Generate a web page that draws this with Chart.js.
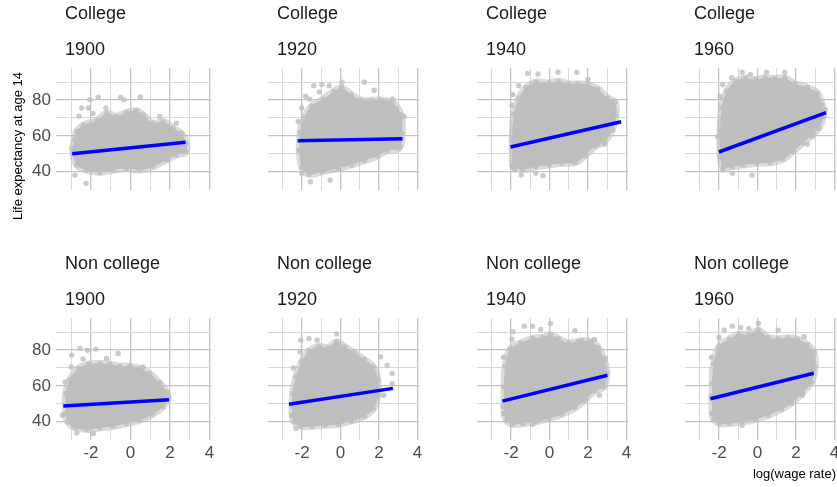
<!DOCTYPE html>
<html>
<head>
<meta charset="utf-8">
<script src="https://cdn.jsdelivr.net/npm/chart.js@4.4.1/dist/chart.umd.min.js"></script>
<style>
  body { margin: 0; width: 837px; height: 487px; overflow: hidden; background: #fff; position: relative; }
  canvas { position: absolute; }
</style>
</head>
<body>
<script>
// Grille et graduations
const xGrid = [-3, -2, -1, 0, 1, 2, 3, 4];
const xLabels = [-2, 0, 2, 4];
const yGrid = [40, 50, 60, 70, 80, 90];
const yLabels = [40, 60, 80];

const groups = ['College', 'Non college'];
const years = ['1900', '1920', '1940', '1960'];

// Nuages : contour de la zone dense [x, y], points isolés, droite de régression
const college1900Cloud = [[-2.92, 50.3], [-2.85, 58], [-2.72, 62.4], [-2.39, 66], [-1.71, 68.5], [-1.21, 72.5], [-0.71, 71], [-0.2, 73], [0.3, 74], [0.64, 71.8], [1.14, 67.1], [1.65, 68], [2.15, 64.3], [2.57, 61.5], [2.82, 55.9], [2.82, 51.2], [2.32, 49.3], [1.82, 46.5], [1.14, 42.8], [0.47, 40.9], [-0.2, 41.9], [-0.87, 40.9], [-1.55, 39.6], [-2.22, 40.9], [-2.72, 43.7]];
const college1900Points = [[-2.05, 80.2], [-1.63, 81.5], [-0.5, 81.5], [-0.34, 80.2], [0.5, 81.7], [-2.47, 75.5], [-2.13, 75.5], [-2.81, 38.1], [-2.25, 33.5], [2.74, 52.1], [2.18, 50.3], [2.32, 67.1], [1.48, 70.8], [-2.97, 53.1], [-1.24, 75.5], [-2.6, 71], [-1.9, 72.5]];
const college1900Fit = [[-2.95, 50.0], [2.79, 56.4]];

const college1920Cloud = [[-2.15, 52.0], [-2.1, 62.0], [-1.9, 70.0], [-1.5, 76.5], [-0.9, 80.5], [-0.37, 84.8], [0.05, 86.8], [0.56, 83.0], [1.07, 80.0], [1.58, 79.8], [2.08, 80.0], [2.68, 78.8], [3.15, 71.8], [3.2, 61.5], [3.05, 53.1], [2.42, 51.8], [1.92, 48.8], [1.24, 46.2], [0.56, 43.7], [-0.12, 41.9], [-0.97, 40.0], [-1.64, 38.6], [-2.02, 42.5]];
const college1920Points = [[-1.39, 88.0], [-0.97, 88.6], [-0.59, 88.0], [0.08, 89.9], [1.24, 89.9], [1.75, 85.4], [2.71, 80.6], [3.31, 70.8], [-2.02, 39.1], [-1.56, 34.4], [-0.54, 35.3], [3.1, 54.0], [-1.81, 82.1], [-2.02, 75.5], [-1.6, 80.5], [-1.1, 84.5], [-2.2, 68]];
const college1920Fit = [[-2.23, 57.3], [3.22, 58.4]];

const college1940Cloud = [[-1.93, 42.8], [-1.95, 57.8], [-1.85, 72.0], [-1.6, 81.0], [-1.22, 87.0], [-0.71, 90.0], [-0.03, 89.5], [0.47, 90.5], [0.98, 89.0], [1.49, 89.0], [2.0, 88.6], [2.51, 86.2], [3.02, 81.1], [3.4, 78.8], [3.45, 71.8], [3.27, 63.4], [2.85, 56.8], [2.34, 54.0], [1.83, 48.8], [1.32, 45.0], [0.64, 44.7], [-0.03, 43.7], [-0.71, 42.8], [-1.39, 41.3]];
const college1940Points = [[0.44, 95.5], [1.41, 95.5], [2.0, 91.4], [-1.14, 94.8], [-1.9, 83.0], [-1.81, 40.9], [-1.47, 38.1], [-0.34, 37.8], [2.85, 55.5], [2.51, 55.3], [3.36, 74.6], [-0.71, 39.1], [-1.6, 88], [-0.6, 94.5], [-1.95, 77]];
const college1940Fit = [[-2.03, 53.8], [3.72, 67.9]];

const college1960Cloud = [[-1.95, 48.4], [-1.95, 63.0], [-1.85, 76.0], [-1.6, 85.0], [-1.14, 90.5], [-0.63, 92.3], [-0.12, 91.5], [0.39, 92.4], [0.9, 92.0], [1.41, 92.3], [1.92, 89.2], [2.59, 87.0], [3.1, 84.0], [3.36, 77.4], [3.42, 70.8], [3.19, 64.3], [2.85, 60.6], [2.34, 55.9], [1.83, 51.2], [1.32, 46.9], [0.64, 45.0], [-0.03, 44.7], [-0.75, 43.7], [-1.31, 42.8], [-1.78, 42.5]];
const college1960Points = [[-0.8, 95.5], [-0.37, 94.2], [0.47, 95.5], [1.41, 95.5], [-1.81, 88.6], [-2.07, 59.6], [-1.81, 40.9], [-1.31, 39.1], [-0.29, 38.1], [2.85, 59.6], [2.59, 55.3], [3.53, 74.6], [-1.95, 82], [-1.35, 92.5]];
const college1960Fit = [[-2.01, 51.0], [3.56, 72.9]];

const noncollege1900Cloud = [[-3.28, 44.5], [-3.28, 55.7], [-3.06, 63.5], [-2.64, 69.7], [-2.13, 72.1], [-1.55, 72.5], [-1.04, 72.1], [-0.54, 71.0], [-0.03, 71.0], [0.47, 69.7], [0.97, 66.9], [1.48, 61.7], [1.82, 56.6], [1.9, 52.9], [1.65, 48.3], [1.14, 44.2], [0.47, 40.8], [-0.2, 39.0], [-0.87, 37.5], [-1.55, 36.5], [-2.22, 35.6], [-2.81, 36.7], [-3.18, 39.9]];
const noncollege1900Points = [[-2.55, 80.9], [-2.18, 79.9], [-1.75, 80.5], [-0.62, 78.1], [-1.21, 75.3], [-3.31, 62.2], [-3.45, 43.6], [-2.72, 33.7], [-1.88, 33.4], [1.9, 54.8], [0.64, 70.6], [-2.97, 77.1], [-3.0, 70.5], [-2.4, 75]];
const noncollege1900Fit = [[-3.4, 48.8], [1.95, 52.3]];

const noncollege1920Cloud = [[-2.53, 43.6], [-2.49, 55.7], [-2.32, 65.0], [-2.02, 73.5], [-1.64, 79.5], [-1.14, 82.0], [-0.63, 81.4], [-0.2, 84.6], [0.22, 81.8], [0.73, 78.4], [1.24, 74.7], [1.71, 70.6], [1.95, 63.2], [1.95, 54.8], [1.71, 47.3], [1.24, 43.1], [0.56, 40.3], [-0.12, 38.6], [-0.8, 38.0], [-1.47, 37.5], [-2.07, 37.5], [-2.41, 39.9]];
const noncollege1920Points = [[-0.2, 88.9], [-1.64, 86.4], [-2.07, 85.5], [-1.22, 85.5], [2.08, 76.2], [2.42, 71.5], [2.68, 66.9], [2.68, 61.3], [2.25, 54.8], [-2.32, 36.2], [-2.49, 48.3], [-1.64, 39.3], [-2.45, 70], [-2.1, 79]];
const noncollege1920Fit = [[-2.68, 49.7], [2.72, 58.6]];

const noncollege1940Cloud = [[-2.37, 44.5], [-2.37, 59.4], [-2.3, 71.0], [-2.05, 80.5], [-1.5, 84.0], [-0.88, 86.5], [-0.37, 87.0], [0.05, 88.5], [0.47, 86.4], [0.98, 84.0], [1.49, 84.8], [2.14, 84.8], [2.54, 81.4], [2.85, 74.3], [2.98, 66.9], [2.81, 59.4], [2.34, 57.2], [1.83, 52.0], [1.32, 47.7], [0.64, 44.2], [-0.03, 41.8], [-0.71, 39.9], [-1.39, 39.0], [-1.93, 38.6], [-2.24, 40.8]];
const noncollege1940Points = [[-1.31, 93.3], [-0.88, 93.3], [-0.46, 91.5], [0.05, 94.8], [1.32, 90.7], [1.66, 85.5], [2.34, 85.9], [2.88, 75.3], [2.59, 54.8], [-2.41, 48.3], [-1.98, 39.9], [-0.88, 38.6], [-1.9, 90.2], [-1.95, 86], [-2.4, 76]];
const noncollege1940Fit = [[-2.45, 51.5], [3.01, 65.9]];

const noncollege1960Cloud = [[-2.36, 44.5], [-2.36, 61.3], [-2.28, 72.5], [-2.0, 82.0], [-1.47, 86.0], [-0.97, 88.8], [-0.46, 88.5], [0.05, 91.0], [0.56, 87.0], [1.07, 86.3], [1.58, 86.8], [2.08, 86.0], [2.59, 83.0], [2.93, 78.4], [3.0, 70.6], [2.8, 62.2], [2.34, 56.1], [1.78, 50.5], [1.24, 46.8], [0.56, 43.6], [-0.12, 41.2], [-0.8, 39.9], [-1.47, 39.0], [-1.98, 39.0], [-2.27, 41.2]];
const noncollege1960Points = [[-1.31, 93.3], [-0.88, 92.6], [-0.46, 92.0], [0.05, 94.8], [1.07, 91.1], [2.42, 87.4], [2.93, 79.0], [2.59, 61.7], [2.34, 54.8], [-2.41, 53.9], [-2.24, 46.4], [-1.98, 40.8], [-0.8, 38.0], [-1.73, 91.1], [-2.0, 87], [-2.4, 76]];
const noncollege1960Fit = [[-2.45, 52.8], [2.92, 67.0]];

const panels = [
  { row: 0, col: 0, cloud: college1900Cloud, points: college1900Points, fit: college1900Fit },
  { row: 0, col: 1, cloud: college1920Cloud, points: college1920Points, fit: college1920Fit },
  { row: 0, col: 2, cloud: college1940Cloud, points: college1940Points, fit: college1940Fit },
  { row: 0, col: 3, cloud: college1960Cloud, points: college1960Points, fit: college1960Fit },
  { row: 1, col: 0, cloud: noncollege1900Cloud, points: noncollege1900Points, fit: noncollege1900Fit },
  { row: 1, col: 1, cloud: noncollege1920Cloud, points: noncollege1920Points, fit: noncollege1920Fit },
  { row: 1, col: 2, cloud: noncollege1940Cloud, points: noncollege1940Points, fit: noncollege1940Fit },
  { row: 1, col: 3, cloud: noncollege1960Cloud, points: noncollege1960Points, fit: noncollege1960Fit },
];

// Mise en page (pixels)
const colLeft = [0, 264, 473, 681];
const rowTop = [-4, 246];
const panelW = 155, panelH = 122, stripH = 72;
const xMin = -3.77, xMax = -3.77 + 155 / 19.75;
const yMin = 29.8, yMax = 97.85;

const FONT = '"Liberation Sans", Arial, sans-serif';
const grey = 'rgba(190,190,190,1)';
const toXY = arr => arr.map(p => ({ x: p[0], y: p[1] }));

// Titres des facettes + titre de l'axe y
const stripPlugin = {
  id: 'strip',
  afterDraw(chart, args, opts) {
    const ctx = chart.ctx, a = chart.chartArea;
    ctx.save();
    ctx.font = '18px ' + FONT;
    ctx.fillStyle = '#1a1a1a';
    ctx.textBaseline = 'middle';
    ctx.textAlign = 'left';
    opts.lines.forEach((t, i) => ctx.fillText(t, a.left + 9, a.top - 54 + i * 36));
    if (opts.yTitle) {
      ctx.font = '13px ' + FONT;
      ctx.fillStyle = '#000';
      ctx.translate(18, 150);
      ctx.rotate(-Math.PI / 2);
      ctx.textAlign = 'center';
      ctx.fillText(opts.yTitle, 0, 0);
    }
    ctx.restore();
  }
};

panels.forEach(p => {
  const axisW = p.col === 0 ? 56 : 0;
  const axisH = p.row === 0 ? 50 : 47;
  const w = axisW + panelW + 10;
  const h = stripH + panelH + axisH;
  const canvas = document.createElement('canvas');
  canvas.width = w;
  canvas.height = h;
  canvas.style.left = colLeft[p.col] + 'px';
  canvas.style.top = rowTop[p.row] + 'px';
  canvas.style.width = w + 'px';
  canvas.style.height = h + 'px';
  document.body.appendChild(canvas);

  const lastPanel = p.row === 1 && p.col === 3;

  new Chart(canvas, {
    type: 'line',
    data: {
      datasets: [
        {
          data: toXY(p.fit),
          borderColor: '#0000ff',
          borderWidth: 3.5,
          borderCapStyle: 'butt',
          pointRadius: 0,
          fill: false,
          order: 0,
        },
        {
          data: toXY(p.points),
          showLine: false,
          pointRadius: 2.7,
          pointBorderWidth: 0,
          pointBackgroundColor: 'rgba(190,190,190,0.8)',
          order: 1,
        },
        {
          data: toXY(p.cloud.concat([p.cloud[0]])),
          borderColor: 'rgba(190,190,190,0.55)',
          backgroundColor: grey,
          borderWidth: 7,
          borderJoinStyle: 'round',
          tension: 0.4,
          fill: 'shape',
          pointRadius: 2.7,
          pointBorderWidth: 0,
          pointBackgroundColor: 'rgba(190,190,190,0.8)',
          order: 2,
        },
      ],
    },
    options: {
      responsive: false,
      animation: false,
      events: [],
      layout: { padding: { top: stripH, right: 10, bottom: 0, left: 0 } },
      scales: {
        x: {
          type: 'linear',
          min: xMin,
          max: xMax,
          afterBuildTicks: s => { s.ticks = xGrid.map(v => ({ value: v })); },
          afterFit: s => { s.height = axisH; },
          grid: {
            drawTicks: false,
            color: c => xLabels.includes(c.tick.value) ? '#c4c4c4' : '#d9d9d9',
            lineWidth: c => xLabels.includes(c.tick.value) ? 1.3 : 1,
          },
          border: { display: false },
          ticks: {
            display: p.row === 1,
            autoSkip: false,
            maxRotation: 0,
            padding: 3,
            color: '#4d4d4d',
            font: { family: FONT, size: 17 },
            callback: v => xLabels.includes(v) ? String(v) : '',
          },
          title: {
            display: lastPanel,
            text: 'log(wage rate)',
            align: 'end',
            color: '#000',
            font: { family: FONT, size: 13 },
            padding: { top: 0, bottom: 5 },
          },
        },
        y: {
          min: yMin,
          max: yMax,
          afterBuildTicks: s => { s.ticks = yGrid.map(v => ({ value: v })); },
          afterFit: s => { s.width = axisW; },
          grid: {
            drawTicks: false,
            color: c => yLabels.includes(c.tick.value) ? '#c4c4c4' : '#d9d9d9',
            lineWidth: c => yLabels.includes(c.tick.value) ? 1.3 : 1,
          },
          border: { display: false },
          ticks: {
            display: p.col === 0,
            padding: 5,
            color: '#4d4d4d',
            font: { family: FONT, size: 17 },
            callback: v => yLabels.includes(v) ? String(v) : '',
          },
        },
      },
      plugins: {
        legend: { display: false },
        tooltip: { enabled: false },
        strip: {
          lines: [groups[p.row], years[p.col]],
          yTitle: p.row === 0 && p.col === 0 ? 'Life expectancy at age 14' : null,
        },
      },
    },
    plugins: [stripPlugin],
  });
});
</script>
</body>
</html>
